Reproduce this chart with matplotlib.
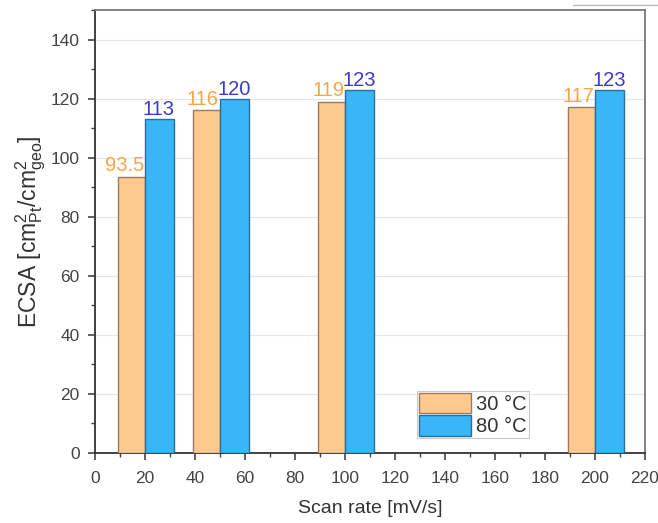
import matplotlib
matplotlib.use("Agg")
import matplotlib.pyplot as plt
from matplotlib.lines import Line2D
from matplotlib.ticker import MultipleLocator

# Data
scan_rates = [20, 50, 100, 200]
ecsa_30 = [93.5, 116, 119, 117]
ecsa_80 = [113, 120, 123, 123]
labels_30 = ["93.5", "116", "119", "117"]
labels_80 = ["113", "120", "123", "123"]
series_names = ["30 °C", "80 °C"]

plt.rcParams['font.family'] = ['Liberation Sans', 'DejaVu Sans']
plt.rcParams['mathtext.fontset'] = 'custom'
plt.rcParams['mathtext.rm'] = 'Liberation Sans'

fig = plt.figure(figsize=(6.58, 5.23), dpi=100)
ax = fig.add_axes([95/658, 1 - 453/523, 550/658, 443/523])

c_or, e_or = "#FFC98D", "#9C7A5A"
c_bl, e_bl = "#38B6F7", "#2A6E9A"

b1 = ax.bar([x - 5.6 for x in scan_rates], ecsa_30, width=10.8,
            color=c_or, edgecolor=e_or, linewidth=1.0, label=series_names[0], zorder=3)
b2 = ax.bar([x + 5.6 for x in scan_rates], ecsa_80, width=11.6,
            color=c_bl, edgecolor=e_bl, linewidth=1.0, label=series_names[1], zorder=3)

for x, v, t in zip(scan_rates, ecsa_30, labels_30):
    ax.annotate(t, (x - 0.4, v), xytext=(0, 1), textcoords="offset points",
                ha="right", va="bottom", color="#F2A54A", fontsize=14.5)
for x, v, t in zip(scan_rates, ecsa_80, labels_80):
    ax.annotate(t, (x + 5.6, v), xytext=(0, 0), textcoords="offset points",
                ha="center", va="bottom", color="#3A3AD0", fontsize=14.5)

ax.set_xlim(0, 220)
ax.set_ylim(0, 150)
ax.xaxis.set_major_locator(MultipleLocator(20))
ax.xaxis.set_minor_locator(MultipleLocator(10))
ax.yaxis.set_major_locator(MultipleLocator(20))
ax.yaxis.set_minor_locator(MultipleLocator(10))
ax.tick_params(which="both", direction="out", colors="#444444", labelcolor="#444444")
ax.tick_params(which="major", length=5, width=1.2, labelsize=12.5)
ax.tick_params(axis="x", which="major", pad=8)
ax.tick_params(axis="y", which="major", pad=6)
ax.tick_params(which="minor", length=3, width=1.0)

ax.grid(axis="y", color="#E6E6E6", linewidth=0.8, zorder=0)
ax.set_axisbelow(True)

for s in ["left", "bottom"]:
    ax.spines[s].set_color("#333333")
    ax.spines[s].set_linewidth(1.3)
for s in ["top", "right"]:
    ax.spines[s].set_color("#777777")
    ax.spines[s].set_linewidth(1.3)

ax.set_xlabel("Scan rate [mV/s]", fontsize=14, color="#333333", labelpad=10)
ax.set_ylabel(r"ECSA [cm$^{2}_{\mathrm{Pt}}$/cm$^{2}_{\mathrm{geo}}$]", fontsize=16.5,
              color="#333333", labelpad=2)

leg = ax.legend(loc="lower left", bbox_to_anchor=(322/550, 15/443), fontsize=14.5,
                frameon=True, fancybox=False, handlelength=2.6, handleheight=1.2,
                handletextpad=0.25, borderpad=0.1, labelspacing=0.05, borderaxespad=0)
leg.get_frame().set_edgecolor("#BBBBBB")
leg.get_frame().set_linewidth(0.8)
for t in leg.get_texts():
    t.set_color("#333333")

# thin rule at the top-right corner of the page
fig.add_artist(Line2D([573/658, 1.0], [1 - 5/523, 1 - 5/523],
                      transform=fig.transFigure, color="#BBBBBB", linewidth=1.0))

fig.savefig("out.png", dpi=100)
